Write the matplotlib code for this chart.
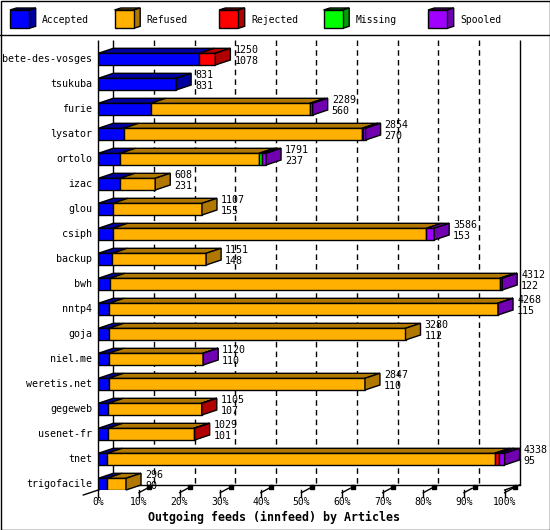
import matplotlib
matplotlib.use("Agg")
import matplotlib.pyplot as plt
from matplotlib.patches import Polygon, Rectangle

# serveurs et articles (innfeed)
servers = ['bete-des-vosges', 'tsukuba', 'furie', 'lysator', 'ortolo', 'izac',
           'glou', 'csiph', 'backup', 'bwh', 'nntp4', 'goja', 'niel.me',
           'weretis.net', 'gegeweb', 'usenet-fr', 'tnet', 'trigofacile']
totals = [1250, 831, 2289, 2854, 1791, 608, 1107, 3586, 1151, 4312, 4268,
          3280, 1120, 2847, 1105, 1029, 4338, 296]
accepted = [1078, 831, 560, 270, 237, 231, 155, 153, 148, 122, 115, 112,
            110, 110, 107, 101, 95, 90]
refused = [0, 0, 1699, 2547, 1481, 377, 952, 3351, 1003, 4165, 4148, 3168,
           1007, 2737, 995, 918, 4136, 206]
rejected = [172, 0, 0, 12, 0, 0, 0, 0, 0, 0, 0, 0, 0, 0, 3, 10, 43, 0]
missing = [0, 0, 0, 0, 25, 0, 0, 0, 0, 0, 0, 0, 0, 0, 0, 0, 0, 0]
spooled = [0, 0, 30, 25, 48, 0, 0, 82, 0, 25, 5, 0, 3, 0, 0, 0, 64, 0]

series_names = ['Accepted', 'Refused', 'Rejected', 'Missing', 'Spooled']
series = [accepted, refused, rejected, missing, spooled]
front_colors = ['#0000ff', '#ffb000', '#ff0000', '#00ff00', '#a000ff']
dark_colors = ['#0000a0', '#b07800', '#b00000', '#00a000', '#7000b0']

W, H = 550, 530
MONO = 'DejaVu Sans Mono'
LW = 1.0

fig = plt.figure(figsize=(W / 100, H / 100), dpi=100)

# fond: cadre + légende
bg = fig.add_axes([0, 0, 1, 1])
bg.set_xlim(0, W)
bg.set_ylim(H, 0)
bg.axis('off')
bg.add_patch(Rectangle((0.5, 0.5), W - 1, H - 1, fill=False, ec='black', lw=LW))
bg.plot([0, W], [35, 35], color='black', lw=LW)
for j, name in enumerate(series_names):
    x0 = 10 + 104.5 * j
    bg.add_patch(Polygon([(x0, 10), (x0 + 19.3, 10), (x0 + 25.7, 8), (x0 + 6.4, 8)],
                         fc=dark_colors[j], ec='black', lw=LW))
    bg.add_patch(Polygon([(x0 + 19.3, 10), (x0 + 25.7, 8), (x0 + 25.7, 26.3), (x0 + 19.3, 28.3)],
                         fc=dark_colors[j], ec='black', lw=LW))
    bg.add_patch(Rectangle((x0, 10), 19.3, 18.3, fc=front_colors[j], ec='black', lw=LW))
    bg.text(x0 + 32, 20, name, family=MONO, fontsize=7, va='center', ha='left')

# zone du graphique: x en %, y en rangées
PX = 406.3 / 100.0
ROW = 25.0
dx = 15 / PX
dy = 5 / ROW
h = 11.7 / ROW
y_top = (40 - 59.15) / ROW
y_front = (490 - 59.15) / ROW
y_back = y_front - dy

ax = fig.add_axes([98.3 / W, 40 / H, 406.3 / W, 450 / H])
ax.set_xlim(0, 100)
ax.set_ylim(y_front, y_top)
ax.axis('off')

scale = 100.0 / max(totals)

# grille (plan du fond)
grid_x = [k * 10 + dx for k in range(1, 10)]
ax.vlines(grid_x, y_top, y_back, colors='black', lw=LW, linestyles=(0, (4, 3)),
          clip_on=False, zorder=2)
ax.vlines([dx, 100 + dx], y_top, y_back, colors='black', lw=LW, clip_on=False, zorder=2)
ax.vlines([0], y_top, y_front, colors='black', lw=LW, clip_on=False, zorder=2)
ax.plot([dx, 100 + dx], [y_back, y_back], color='black', lw=LW, clip_on=False, zorder=2)
ax.plot([-dx, dx], [y_front + dy, y_back], color='black', lw=LW, clip_on=False, zorder=2)
ax.plot([100, 100 + dx], [y_front, y_back], color='black', lw=LW, clip_on=False, zorder=2)

# graduations
for k in range(11):
    xt = k * 10
    ax.plot([xt, xt], [y_front, y_front + 6.5 / ROW], color='black', lw=LW, clip_on=False)
    if k > 0:
        ax.plot([xt, xt + 2.0], [y_front + 2.7 / ROW, y_front - 1.7 / ROW],
                color='black', lw=LW, clip_on=False)
        ax.plot([xt + 2.6], [y_front - 2.6 / ROW], marker='s', ms=2.2,
                color='black', clip_on=False)
    ax.text(xt, y_front + 12 / ROW, f'{xt}%', family=MONO, fontsize=7,
            ha='center', va='center')

# barres 3D
for i, name in enumerate(servers):
    left = 0.0
    last = None
    top = i - h / 2
    for s, vals in enumerate(series):
        w = vals[i] * scale
        if w <= 0:
            continue
        ax.barh(i, w, left=left, height=h, color=front_colors[s],
                edgecolor='black', lw=LW, zorder=3)
        ax.add_patch(Polygon([(left, top), (left + w, top), (left + w + dx, top - dy),
                              (left + dx, top - dy)], fc=dark_colors[s], ec='black',
                             lw=LW, zorder=3, clip_on=False))
        left += w
        last = s
    ax.add_patch(Polygon([(left, top), (left + dx, top - dy), (left + dx, top + h - dy),
                          (left, top + h)], fc=dark_colors[last], ec='black',
                         lw=LW, zorder=3, clip_on=False))
    ax.text(-6 / PX, i, name, family=MONO, fontsize=7.2, ha='right', va='center',
            clip_on=False)
    ax.text(left + dx + 1.0, i - 0.367, str(totals[i]), family=MONO, fontsize=7.2,
            ha='left', va='center', clip_on=False, zorder=4)
    ax.text(left + dx + 1.0, i + 0.066, str(accepted[i]), family=MONO, fontsize=7.2,
            ha='left', va='center', clip_on=False, zorder=4)

bg.text(274, 517, 'Outgoing feeds (innfeed) by Articles', family=MONO,
        fontsize=8.4, fontweight='bold', ha='center', va='center')

fig.savefig('out.png', dpi=100)
